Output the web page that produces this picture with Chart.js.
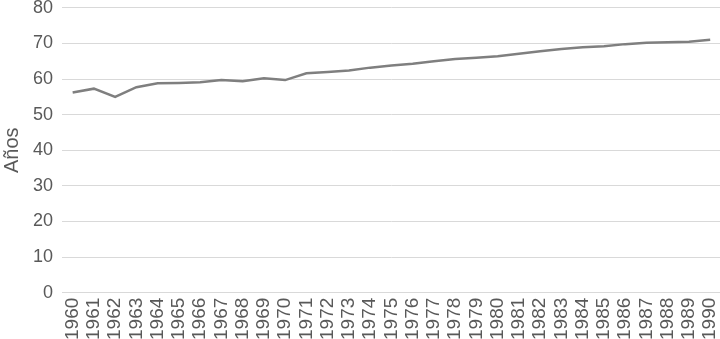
<!DOCTYPE html>
<html>
<head>
<meta charset="utf-8">
<script src="https://cdn.jsdelivr.net/npm/chart.js@4/dist/chart.umd.min.js"></script>
<style>
  html, body { margin: 0; padding: 0; background: #fff; }
  #wrap { width: 720px; height: 339px; position: relative; overflow: hidden; }
  #inner { position: absolute; left: 0; top: -12px; width: 738px; height: 357px; }
</style>
</head>
<body>
<div id="wrap"><div id="inner"><canvas id="chart"></canvas></div></div>
<script>
// Años 1960 - 1990
const years = [];
for (let y = 1960; y <= 1990; y++) years.push(String(y));

const esperanza = [
    56.2, 57.3, 55.0, 57.7, 58.8, 58.9, 59.1, 59.7, 59.4, 60.2,
    59.7, 61.6, 62.0, 62.4, 63.2, 63.8, 64.3, 65.0, 65.6, 66.0,
    66.4, 67.1, 67.8, 68.4, 68.9, 69.2, 69.8, 70.2, 70.3, 70.5,
    71.0
];

const yTicks = { min: 0, max: 80, step: 10 };

const ctx = document.getElementById('chart').getContext('2d');
new Chart(ctx, {
    type: 'line',
    data: {
        labels: years,
        datasets: [{
            data: esperanza,
            borderColor: '#7f7f7f',
            borderWidth: 2.5,
            pointRadius: 0,
            tension: 0,
            fill: false
        }]
    },
    options: {
        responsive: true,
        maintainAspectRatio: false,
        animation: false,
        layout: { padding: { top: 0, right: 0, left: 0, bottom: 0 } },
        plugins: { legend: { display: false }, tooltip: { enabled: false } },
        scales: {
            x: {
                offset: true,
                grid: { display: false, drawTicks: false },
                border: { display: true, color: '#d9d9d9', width: 1 },
                ticks: {
                    color: '#595959',
                    font: { family: 'Liberation Sans, Arial', size: 19 },
                    minRotation: 90,
                    maxRotation: 90,
                    autoSkip: false,
                    padding: 5
                }
            },
            y: {
                min: yTicks.min,
                max: yTicks.max,
                grid: { color: '#d9d9d9', lineWidth: 1, drawTicks: false },
                border: { display: false },
                ticks: {
                    stepSize: yTicks.step,
                    color: '#595959',
                    font: { family: 'Liberation Sans, Arial', size: 18 },
                    padding: 9
                },
                title: {
                    display: true,
                    text: 'Años',
                    color: '#595959',
                    font: { family: 'Liberation Sans, Arial', size: 20 },
                    padding: { top: 0, bottom: 0 }
                }
            }
        }
    }
});
</script>
</body>
</html>
